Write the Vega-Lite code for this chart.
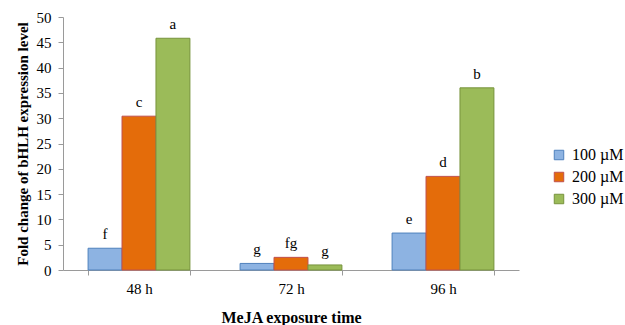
{
  "$schema": "https://vega.github.io/schema/vega-lite/v6.json",
  "width": 456,
  "height": 253,
  "autosize": "none",
  "padding": {"left": 63, "top": 17, "right": 106, "bottom": 55},
  "background": "white",
  "config": {"view": {"stroke": null}, "font": "Liberation Serif"},
  "data": {
    "values": [
      {"time": "48 h", "conc": "100 µM", "value": 4.3, "label": "f"},
      {"time": "48 h", "conc": "200 µM", "value": 30.4, "label": "c"},
      {"time": "48 h", "conc": "300 µM", "value": 45.8, "label": "a"},
      {"time": "72 h", "conc": "100 µM", "value": 1.3, "label": "g"},
      {"time": "72 h", "conc": "200 µM", "value": 2.5, "label": "fg"},
      {"time": "72 h", "conc": "300 µM", "value": 1.0, "label": "g"},
      {"time": "96 h", "conc": "100 µM", "value": 7.3, "label": "e"},
      {"time": "96 h", "conc": "200 µM", "value": 18.5, "label": "d"},
      {"time": "96 h", "conc": "300 µM", "value": 36.0, "label": "b"}
    ]
  },
  "encoding": {
    "x": {
      "field": "time", "type": "nominal",
      "scale": {"paddingInner": 0.33, "paddingOuter": 0.165},
      "axis": {
        "title": "MeJA exposure time", "titleFont": "Liberation Serif", "titleFontSize": 16, "titleFontWeight": "bold",
        "titleColor": "black", "titlePadding": 13,
        "labelAngle": 0, "labelFont": "Liberation Serif", "labelFontSize": 15, "labelColor": "black", "labelPadding": 6,
        "tickBand": "extent", "tickColor": "#9a9a9a", "tickSize": 5, "domainColor": "#9a9a9a", "grid": false
      }
    },
    "xOffset": {"field": "conc", "type": "nominal"},
    "y": {
      "field": "value", "type": "quantitative",
      "scale": {"domain": [0, 50]},
      "axis": {
        "title": "Fold change of bHLH expression level", "titleFont": "Liberation Serif", "titleFontSize": 15, "titleFontWeight": "bold",
        "titleColor": "black", "titlePadding": 6,
        "values": [0, 5, 10, 15, 20, 25, 30, 35, 40, 45, 50],
        "labelFont": "Liberation Serif", "labelFontSize": 15, "labelColor": "black", "labelPadding": 7,
        "tickColor": "#9a9a9a", "tickSize": 5, "domainColor": "#9a9a9a", "grid": false
      }
    }
  },
  "layer": [
    {
      "mark": {"type": "bar", "strokeWidth": 1},
      "encoding": {
        "color": {
          "field": "conc", "type": "nominal",
          "scale": {"domain": ["100 µM", "200 µM", "300 µM"], "range": ["#8DB3E2", "#E46C0A", "#9BBB59"]},
          "legend": {
            "title": null, "orient": "none", "legendX": 488, "legendY": 130,
            "symbolType": "square", "symbolSize": 90, "symbolStrokeWidth": 1,
            "labelFont": "Liberation Serif", "labelFontSize": 16, "labelColor": "black", "labelOffset": 5,
            "rowPadding": 6, "symbolOpacity": 1
          }
        },
        "stroke": {
          "field": "conc", "type": "nominal",
          "scale": {"domain": ["100 µM", "200 µM", "300 µM"], "range": ["#4F81BD", "#C0504D", "#77933C"]},
          "legend": null
        }
      }
    },
    {
      "mark": {"type": "text", "dy": -9, "fontSize": 15, "font": "Liberation Serif", "color": "black", "baseline": "alphabetic"},
      "encoding": {"text": {"field": "label"}}
    }
  ]
}
